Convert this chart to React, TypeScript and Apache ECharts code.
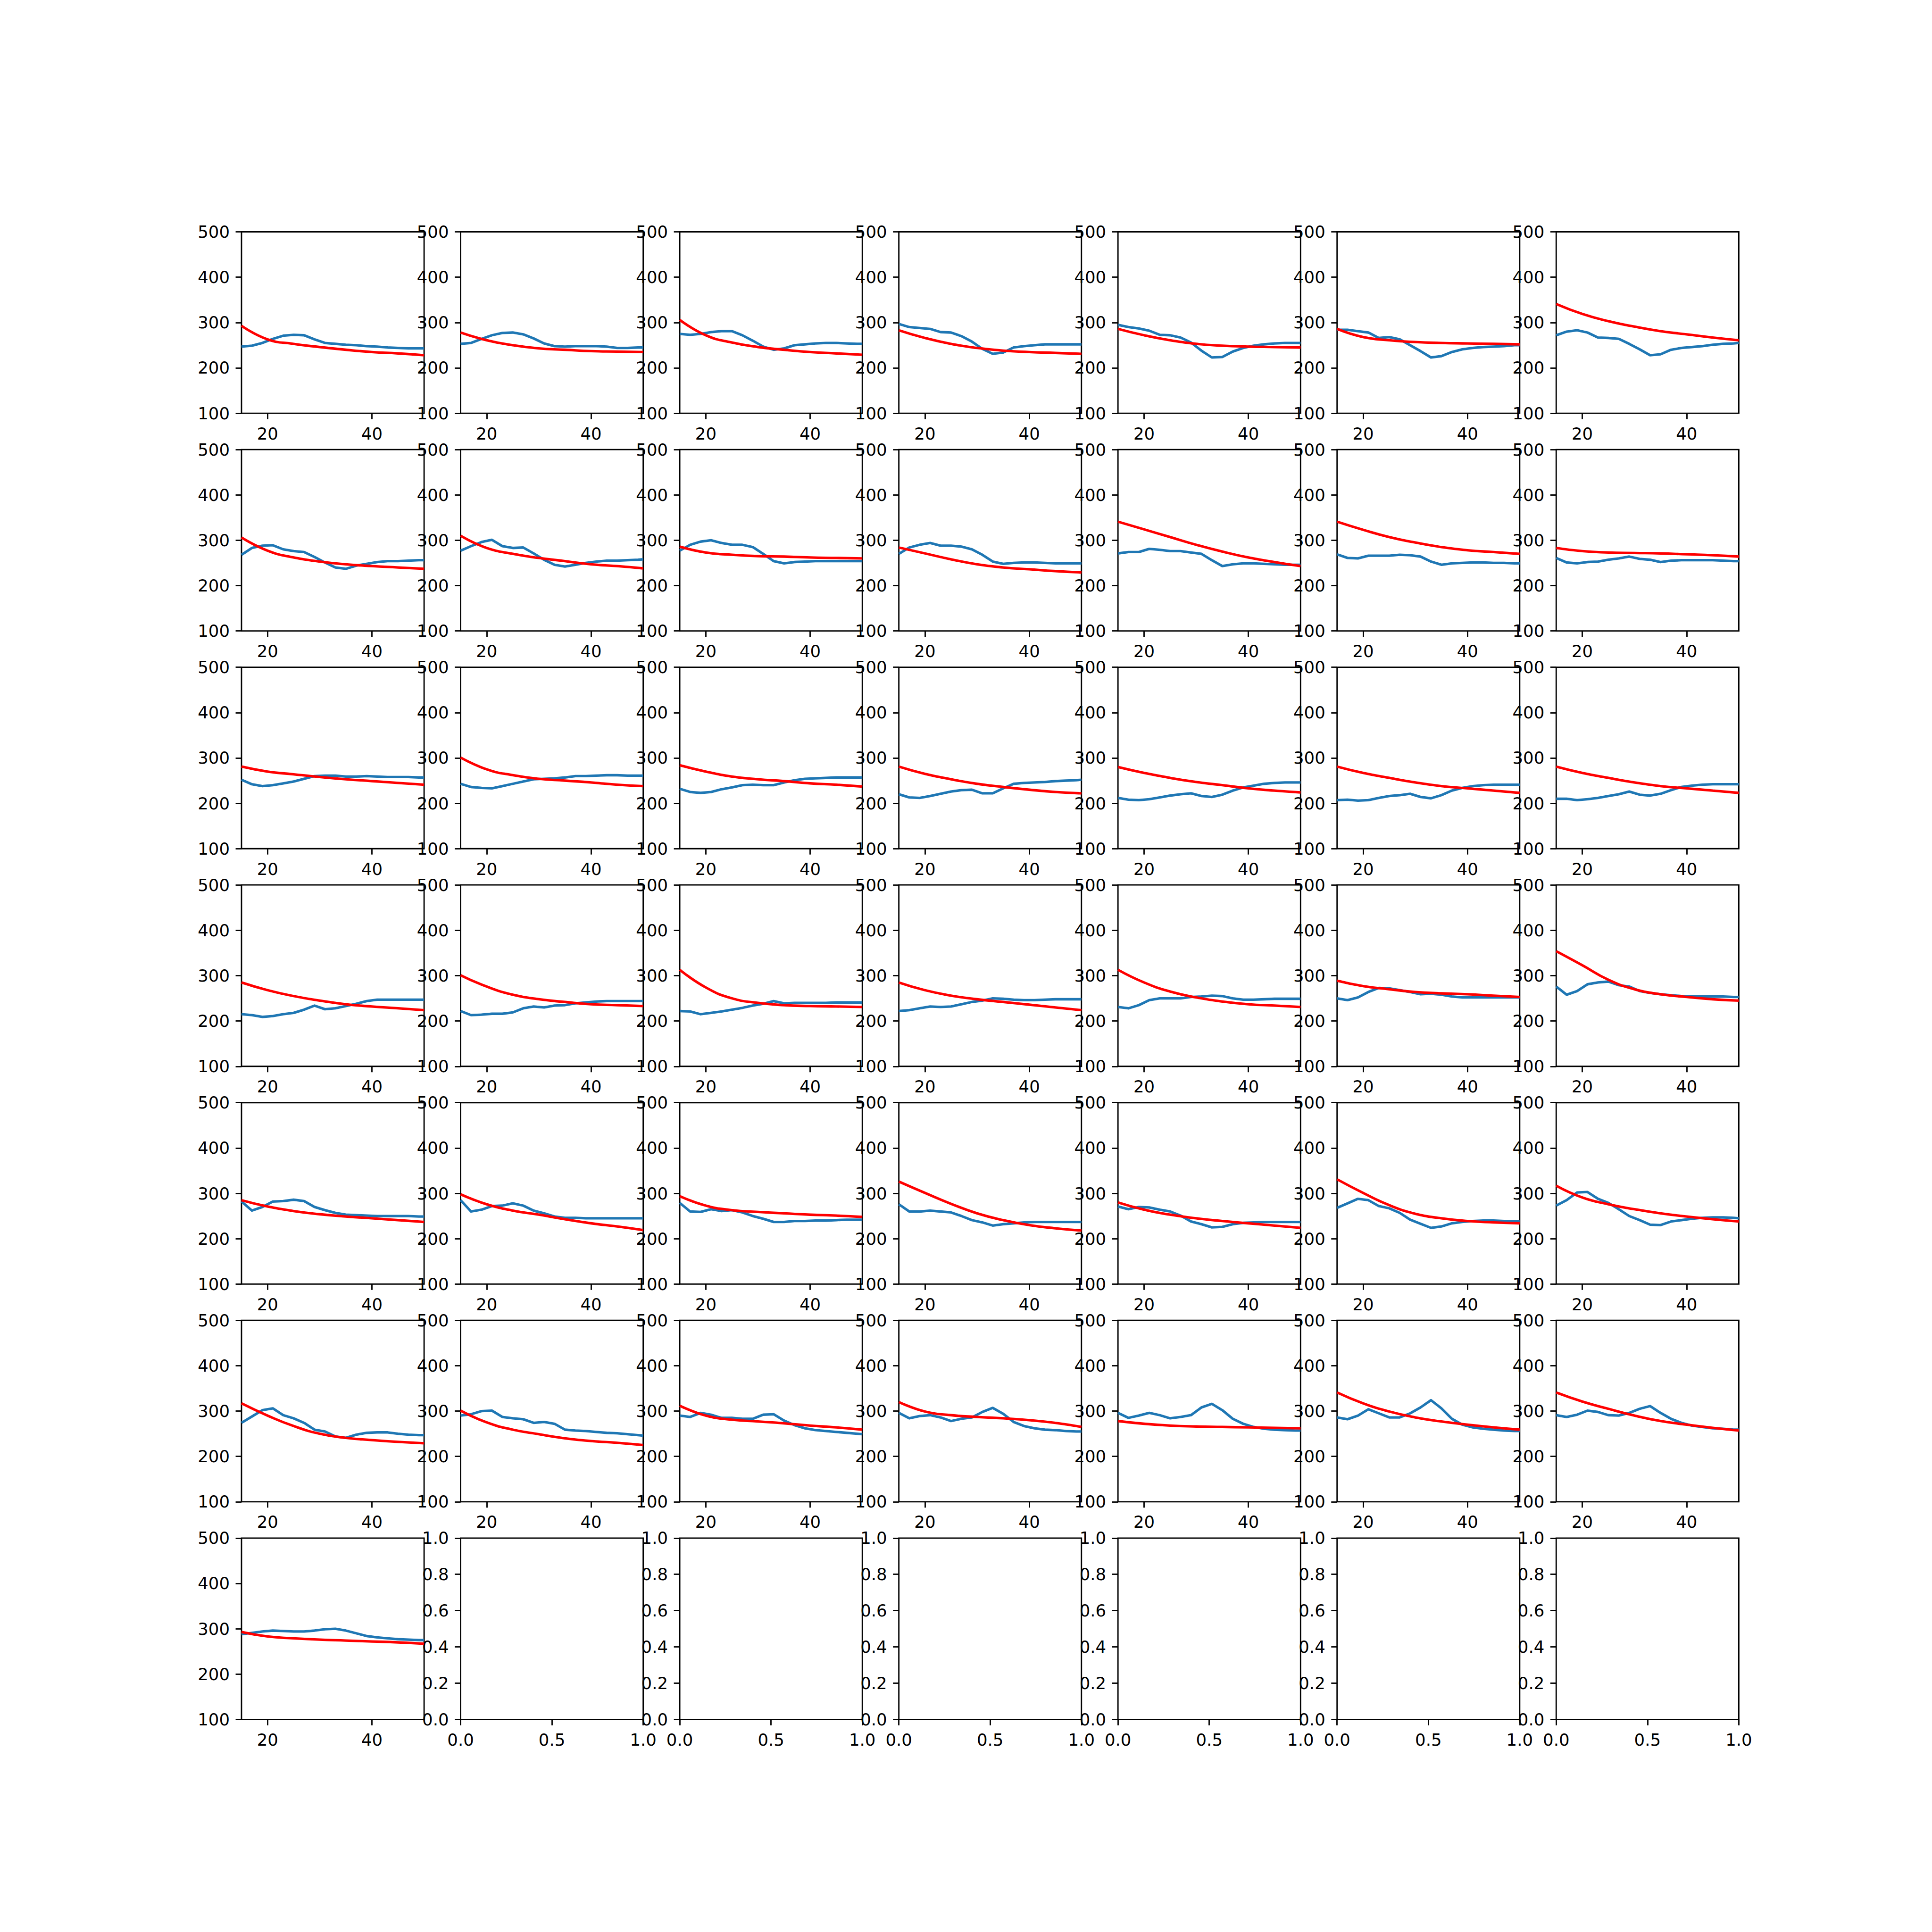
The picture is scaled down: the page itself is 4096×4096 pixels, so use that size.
import React, { useEffect, useRef } from "react";
import * as echarts from "echarts";

const X = [15, 17, 19, 21, 23, 25, 27, 29, 31, 33, 35, 37, 39, 41, 43, 45, 47, 49, 50];
const RX = [15, 20, 25, 30, 35, 40, 45, 50];
const X_TICKS = [20, 40];

const blueRow0 = [
  [247, 249, 255, 264, 271, 273, 272, 263, 255, 253, 251, 250, 248, 247, 245, 244, 243, 243, 243],
  [253, 255, 264, 272, 277, 278, 274, 265, 254, 248, 247, 248, 248, 248, 247, 244, 244, 245, 245],
  [275, 273, 275, 279, 281, 281, 272, 260, 247, 240, 243, 250, 252, 254, 255, 255, 254, 253, 253],
  [297, 290, 288, 286, 279, 278, 270, 258, 242, 231, 234, 245, 248, 250, 252, 252, 252, 252, 252],
  [295, 290, 287, 282, 273, 272, 267, 256, 238, 223, 224, 236, 244, 249, 252, 254, 255, 255, 255],
  [284, 284, 281, 278, 266, 268, 263, 250, 237, 223, 226, 235, 241, 244, 246, 247, 248, 250, 250],
  [272, 280, 283, 278, 267, 266, 264, 253, 241, 228, 230, 240, 244, 246, 248, 251, 253, 254, 255],
];
const redRow0 = [
  [293, 263, 253, 246, 240, 235, 232, 228],
  [278, 261, 250, 243, 240, 237, 236, 235],
  [306, 272, 256, 246, 240, 235, 232, 229],
  [283, 266, 253, 244, 238, 235, 233, 231],
  [286, 272, 261, 253, 249, 247, 246, 245],
  [286, 268, 261, 257, 255, 254, 253, 252],
  [341, 319, 303, 291, 281, 274, 267, 261],
];

const blueRow1 = [
  [268, 283, 288, 289, 280, 276, 274, 263, 251, 240, 237, 244, 248, 252, 254, 254, 255, 256, 256],
  [277, 287, 296, 301, 287, 283, 284, 271, 257, 246, 242, 246, 250, 253, 255, 255, 256, 257, 258],
  [277, 290, 297, 300, 294, 290, 290, 285, 270, 254, 249, 252, 253, 254, 254, 254, 254, 254, 254],
  [270, 284, 290, 294, 288, 288, 286, 280, 268, 253, 248, 250, 251, 251, 250, 249, 249, 249, 249],
  [271, 274, 274, 281, 279, 276, 276, 273, 270, 256, 243, 247, 249, 249, 248, 247, 246, 246, 246],
  [269, 261, 260, 266, 266, 266, 268, 267, 264, 253, 246, 249, 250, 251, 251, 250, 250, 249, 249],
  [261, 251, 249, 252, 253, 257, 260, 264, 259, 257, 252, 255, 256, 256, 256, 256, 255, 254, 254],
];
const redRow1 = [
  [306, 277, 262, 253, 247, 243, 240, 237],
  [310, 283, 270, 261, 254, 247, 243, 238],
  [286, 273, 268, 265, 264, 262, 261, 260],
  [284, 271, 258, 247, 240, 236, 232, 229],
  [341, 324, 307, 290, 275, 262, 252, 243],
  [341, 323, 307, 295, 285, 278, 274, 270],
  [283, 276, 273, 272, 271, 269, 267, 264],
];

const blueRow2 = [
  [252, 242, 238, 240, 244, 248, 254, 260, 261, 261, 259, 259, 260, 259, 258, 258, 258, 257, 257],
  [243, 236, 234, 233, 238, 243, 248, 253, 254, 255, 257, 260, 260, 261, 262, 262, 261, 261, 261],
  [232, 225, 223, 225, 231, 235, 240, 241, 240, 240, 246, 251, 254, 255, 256, 257, 257, 257, 257],
  [220, 213, 212, 216, 221, 226, 229, 230, 222, 222, 233, 243, 245, 246, 247, 249, 250, 251, 252],
  [212, 208, 207, 209, 213, 217, 220, 222, 216, 214, 219, 228, 235, 239, 243, 245, 246, 246, 246],
  [207, 208, 206, 207, 212, 216, 218, 221, 214, 211, 218, 228, 234, 238, 240, 241, 241, 241, 241],
  [210, 210, 207, 209, 212, 216, 220, 226, 219, 217, 221, 229, 236, 239, 241, 242, 242, 242, 242],
];
const redRow2 = [
  [281, 270, 264, 258, 253, 249, 245, 241],
  [301, 275, 262, 254, 250, 246, 241, 238],
  [284, 270, 259, 253, 249, 244, 241, 237],
  [281, 265, 253, 243, 236, 230, 225, 222],
  [280, 267, 256, 247, 240, 233, 228, 224],
  [281, 267, 256, 246, 238, 233, 228, 223],
  [281, 267, 256, 246, 238, 233, 228, 223],
];

const blueRow3 = [
  [215, 213, 209, 211, 215, 218, 225, 234, 226, 228, 233, 238, 244, 247, 247, 247, 247, 247, 247],
  [222, 213, 214, 216, 216, 219, 228, 232, 230, 234, 235, 239, 241, 243, 244, 244, 244, 244, 244],
  [222, 221, 215, 218, 221, 225, 229, 234, 238, 244, 239, 240, 240, 240, 240, 241, 241, 241, 241],
  [222, 224, 228, 232, 231, 232, 237, 242, 245, 250, 249, 247, 246, 246, 247, 248, 248, 248, 248],
  [231, 228, 235, 246, 250, 250, 250, 253, 254, 256, 255, 250, 247, 247, 248, 249, 249, 249, 249],
  [250, 246, 252, 264, 273, 272, 268, 264, 259, 260, 258, 254, 252, 252, 252, 252, 252, 252, 252],
  [276, 258, 266, 281, 285, 287, 279, 276, 266, 262, 259, 257, 255, 254, 254, 254, 254, 253, 253],
];
const redRow3 = [
  [285, 268, 255, 245, 237, 232, 228, 224],
  [301, 276, 258, 248, 242, 237, 235, 233],
  [313, 274, 250, 240, 235, 233, 232, 231],
  [285, 268, 256, 248, 242, 236, 230, 224],
  [313, 285, 265, 252, 243, 237, 234, 231],
  [289, 277, 270, 264, 261, 259, 256, 253],
  [354, 323, 291, 270, 259, 253, 248, 245],
];

const blueRow4 = [
  [282, 262, 270, 282, 283, 286, 283, 270, 263, 257, 253, 252, 251, 250, 250, 250, 250, 249, 249],
  [285, 260, 264, 272, 273, 278, 273, 262, 256, 249, 246, 246, 245, 245, 245, 245, 245, 245, 245],
  [279, 260, 259, 265, 261, 263, 258, 250, 244, 237, 237, 239, 239, 240, 240, 241, 242, 242, 242],
  [276, 260, 260, 262, 260, 258, 250, 241, 236, 229, 232, 234, 236, 237, 237, 237, 237, 237, 237],
  [271, 265, 270, 269, 264, 260, 251, 238, 232, 225, 226, 232, 235, 236, 237, 237, 237, 237, 237],
  [268, 278, 288, 285, 272, 267, 257, 242, 233, 224, 227, 234, 237, 239, 240, 240, 239, 238, 238],
  [273, 285, 302, 303, 288, 279, 265, 250, 241, 231, 230, 238, 241, 244, 246, 247, 247, 246, 245],
];
const redRow4 = [
  [285, 271, 261, 254, 249, 245, 241, 237],
  [298, 276, 262, 253, 243, 234, 227, 219],
  [294, 273, 263, 259, 256, 253, 251, 248],
  [326, 301, 277, 256, 241, 230, 223, 218],
  [280, 264, 253, 245, 239, 234, 229, 224],
  [331, 301, 274, 255, 245, 239, 236, 234],
  [317, 291, 276, 265, 256, 249, 243, 238],
];

const blueRow5 = [
  [274, 288, 302, 306, 291, 284, 274, 259, 255, 244, 241, 248, 252, 253, 253, 250, 248, 247, 247],
  [290, 293, 300, 301, 287, 284, 282, 274, 276, 272, 259, 257, 256, 254, 252, 251, 249, 247, 246],
  [290, 287, 296, 292, 285, 285, 283, 283, 292, 293, 279, 269, 262, 258, 256, 254, 252, 250, 249],
  [296, 284, 289, 291, 286, 278, 283, 286, 298, 307, 294, 276, 267, 262, 259, 258, 256, 255, 255],
  [296, 285, 290, 296, 291, 284, 287, 291, 308, 316, 302, 283, 272, 265, 261, 259, 258, 257, 257],
  [286, 282, 290, 304, 295, 286, 286, 295, 308, 324, 306, 283, 270, 264, 261, 259, 257, 256, 256],
  [291, 287, 292, 301, 298, 291, 290, 296, 305, 311, 296, 283, 274, 268, 265, 262, 261, 259, 259],
];
const redRow5 = [
  [317, 290, 267, 250, 241, 236, 232, 229],
  [301, 275, 259, 249, 240, 234, 230, 225],
  [312, 290, 281, 277, 273, 268, 264, 259],
  [320, 299, 291, 287, 284, 280, 274, 265],
  [278, 272, 268, 266, 265, 264, 263, 262],
  [341, 317, 299, 286, 277, 270, 264, 259],
  [341, 321, 305, 290, 278, 270, 263, 257],
];

const blueRow6 = [
  [288, 291, 294, 296, 295, 294, 294, 296, 299, 300, 296, 290, 284, 281, 279, 277, 276, 275, 275],
];
const redRow6 = [[293, 283, 279, 276, 274, 272, 270, 267]];

const BLUE = [blueRow0, blueRow1, blueRow2, blueRow3, blueRow4, blueRow5, blueRow6];
const RED = [redRow0, redRow1, redRow2, redRow3, redRow4, redRow5, redRow6];

// layout (output pixels, 4096 canvas; matplotlib default subplot params)
const S = 4096;
const LEFT = 0.125 * S;
const RIGHT = 0.9 * S;
const TOP = 0.12 * S;
const BOTTOM = 0.89 * S;
const AW = (RIGHT - LEFT) / 8.2;
const AH = (BOTTOM - TOP) / 8.2;
const GX = AW * 0.2;
const GY = AH * 0.2;

const FONT = 35.5;
const LW = 5.33;
const SPINE = 2.84;
const TICK = 12.44;
const PAD = 25;

export default function App() {
  const ref = useRef<HTMLDivElement>(null);
  useEffect(() => {
    const chart = echarts.init(ref.current!, null, { renderer: "svg" });
    const grids: any[] = [];
    const xAxes: any[] = [];
    const yAxes: any[] = [];
    const series: any[] = [];
    const labelStyle = { fontFamily: "DejaVu Sans", fontSize: FONT, color: "#000" };
    for (let r = 0; r < 7; r++) {
      for (let c = 0; c < 7; c++) {
        const i = r * 7 + c;
        grids.push({
          left: LEFT + c * (AW + GX),
          top: TOP + r * (AH + GY),
          width: AW,
          height: AH,
          show: true,
          borderColor: "#000",
          borderWidth: SPINE,
          backgroundColor: "transparent",
          containLabel: false,
        });
        const blue = BLUE[r][c];
        const red = RED[r][c];
        const hasData = !!blue;
        const tick = { show: true, inside: false, length: TICK, lineStyle: { color: "#000", width: SPINE } };
        if (hasData) {
          xAxes.push({
            type: "value", gridIndex: i, min: 15, max: 50,
            axisLine: { show: false },
            axisTick: { ...tick, customValues: X_TICKS },
            axisLabel: { ...labelStyle, margin: PAD, customValues: X_TICKS },
            splitLine: { show: false },
          });
          yAxes.push({
            type: "value", gridIndex: i, min: 100, max: 500, interval: 100,
            axisLine: { show: false },
            axisTick: tick,
            axisLabel: { ...labelStyle, margin: PAD, showMinLabel: true, showMaxLabel: true },
            splitLine: { show: false },
          });
          series.push({
            type: "line", xAxisIndex: i, yAxisIndex: i,
            data: X.map((x, j) => [x, blue[j]]),
            showSymbol: false, symbol: "none", silent: true,
            lineStyle: { color: "#1f77b4", width: LW, join: "round" },
            z: 3,
          });
          series.push({
            type: "line", xAxisIndex: i, yAxisIndex: i,
            data: RX.map((x, j) => [x, red[j]]),
            smooth: true, showSymbol: false, symbol: "none", silent: true,
            lineStyle: { color: "#ff0000", width: LW },
            z: 4,
          });
        } else {
          xAxes.push({
            type: "value", gridIndex: i, min: 0, max: 1, interval: 0.5,
            axisLine: { show: false },
            axisTick: tick,
            axisLabel: { ...labelStyle, margin: PAD, showMinLabel: true, showMaxLabel: true, formatter: (v: number) => v.toFixed(1) },
            splitLine: { show: false },
          });
          yAxes.push({
            type: "value", gridIndex: i, min: 0, max: 1, interval: 0.2,
            axisLine: { show: false },
            axisTick: tick,
            axisLabel: { ...labelStyle, margin: PAD, showMinLabel: true, showMaxLabel: true, formatter: (v: number) => v.toFixed(1) },
            splitLine: { show: false },
          });
        }
      }
    }
    chart.setOption({
      animation: false,
      backgroundColor: "#ffffff",
      grid: grids,
      xAxis: xAxes,
      yAxis: yAxes,
      series,
    });
    return () => chart.dispose();
  }, []);
  return (
    <div
      ref={ref}
      style={{ position: "absolute", left: 0, top: 0, width: S, height: S, background: "#fff" }}
    />
  );
}
